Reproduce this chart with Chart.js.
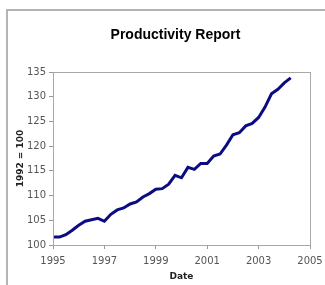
<!DOCTYPE html>
<html>
<head>
<meta charset="utf-8">
<script src="https://cdn.jsdelivr.net/npm/chart.js@4/dist/chart.umd.min.js"></script>
<style>
  body { margin: 0; background: #fff; }
  #frame { position: absolute; left: 6px; top: 9px; width: 400px; height: 400px;
           border-left: 2px solid #b4b4b4; border-top: 2px solid #b4b4b4; }
  #wrap { position: absolute; left: 0; top: 0; width: 325px; height: 285px; }
</style>
</head>
<body>
<div id="frame"></div>
<div id="wrap"><canvas id="productivity-chart"></canvas></div>
<script>
// quarterly dates, as decimal years
const dates = [
    1995, 1995.25, 1995.5, 1995.75,
    1996, 1996.25, 1996.5, 1996.75,
    1997, 1997.25, 1997.5, 1997.75,
    1998, 1998.25, 1998.5, 1998.75,
    1999, 1999.25, 1999.5, 1999.75,
    2000, 2000.25, 2000.5, 2000.75,
    2001, 2001.25, 2001.5, 2001.75,
    2002, 2002.25, 2002.5, 2002.75,
    2003, 2003.25, 2003.5, 2003.75,
    2004, 2004.25
];
const productivity = [
    101.6, 101.6, 102.1, 103.0,
    104.0, 104.8, 105.1, 105.4,
    104.8, 106.2, 107.1, 107.5,
    108.3, 108.7, 109.7, 110.4,
    111.3, 111.4, 112.3, 114.1,
    113.6, 115.7, 115.3, 116.5,
    116.5, 118.0, 118.4, 120.2,
    122.3, 122.7, 124.1, 124.6,
    125.8, 127.9, 130.6, 131.5,
    132.8, 133.8
];
const yearTicks = [1995, 1997, 1999, 2001, 2003, 2005];
const indexTicks = [100, 105, 110, 115, 120, 125, 130, 135];
const chartTitle = 'Productivity Report';

// border round the plot area, and the title (sits a bit left of the plot centre)
const frame = {
    id: 'frame',
    afterDraw(chart) {
        const { ctx, chartArea: a } = chart;
        ctx.save();
        ctx.strokeStyle = '#a8a8a8';
        ctx.lineWidth = 1;
        ctx.strokeRect(a.left + 0.5, a.top + 0.5, a.right - a.left, a.bottom - a.top);
        ctx.fillStyle = '#000';
        ctx.font = 'bold 14px "Liberation Sans"';
        ctx.textAlign = 'center';
        ctx.textBaseline = 'middle';
        ctx.fillText(chartTitle, (a.left + a.right) / 2 - 6, 35);
        ctx.restore();
    }
};

const tickFont = { family: 'DejaVu Sans', size: 10 };

new Chart(document.getElementById('productivity-chart'), {
    type: 'line',
    data: {
        datasets: [{
            label: 'Productivity',
            data: dates.map((d, i) => ({ x: d, y: productivity[i] })),
            borderColor: '#0c0c82',
            borderWidth: 3,
            pointRadius: 0,
            tension: 0
        }]
    },
    plugins: [frame],
    options: {
        responsive: true,
        maintainAspectRatio: false,
        animation: false,
        layout: { padding: { left: 0, right: 15, top: 72, bottom: 0 } },
        plugins: {
            legend: { display: false },
            tooltip: { enabled: false },
            title: { display: false }
        },
        scales: {
            x: {
                type: 'linear',
                min: 1995,
                max: 2005,
                afterBuildTicks: s => { s.ticks = yearTicks.map(v => ({ value: v })); },
                afterFit: s => { s.height = 40; s.paddingLeft = 0; s.paddingRight = 0; },
                ticks: {
                    color: '#555',
                    font: tickFont,
                    padding: 6,
                    maxRotation: 0,
                    callback: v => String(v)
                },
                grid: { drawOnChartArea: false, tickLength: 4, color: '#999' },
                border: { color: '#999' },
                title: {
                    display: true,
                    text: 'Date',
                    color: '#222',
                    font: { family: 'DejaVu Sans', size: 9, weight: 'bold' },
                    padding: { top: 0, bottom: 3 }
                }
            },
            y: {
                min: 100,
                max: 135,
                afterBuildTicks: s => { s.ticks = indexTicks.map(v => ({ value: v })); },
                afterFit: s => { s.width = 53; },
                ticks: { color: '#555', font: tickFont, padding: 3 },
                grid: { drawOnChartArea: false, tickLength: 4, color: '#999' },
                border: { color: '#999' },
                title: {
                    display: true,
                    text: '1992 = 100',
                    color: '#222',
                    font: { family: 'DejaVu Sans', size: 9, weight: 'bold' },
                    padding: { top: 15, bottom: 0 }
                }
            }
        }
    }
});
</script>
</body>
</html>
